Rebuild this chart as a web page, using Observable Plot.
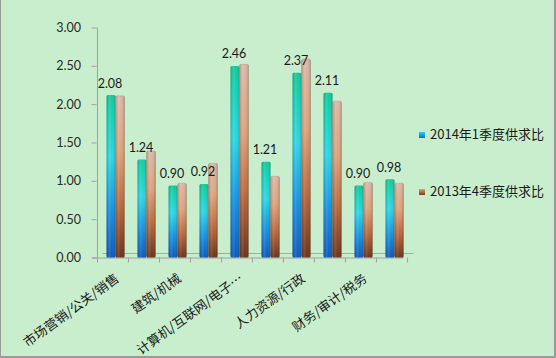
<!DOCTYPE html>
<html>
<head>
<meta charset="utf-8">
<script src="https://cdn.jsdelivr.net/npm/d3@7"></script>
<script src="https://cdn.jsdelivr.net/npm/@observablehq/plot@0.6"></script>
<style>
  html, body { margin: 0; padding: 0; background: #c9eecd; }
  #wrap { position: relative; width: 556px; height: 358px; background: #c9eecd; overflow: hidden; }
  #wrap svg { position: absolute; left: 0; top: 0; }
  .leg { position: absolute; left: 419px; font: 13px "Noto Sans CJK SC", Lato, sans-serif; color: #1a1a1a; line-height: 16px; white-space: nowrap; }
  .leg i { display: inline-block; width: 6px; height: 6px; margin-right: 5px; vertical-align: 1px; }
  #border { position: absolute; left: 0; top: 0; right: 0; bottom: 0; box-sizing: border-box;
            border-left: 1px solid #9a9a9a; border-right: 2px solid #9a9a9a; border-bottom: 2px solid #9a9a9a; pointer-events: none; }
</style>
</head>
<body>
<div id="wrap"><div id="border"></div></div>
<script>
// ---- data ----
const categories = ["市场营销/公关/销售", "（未标注2）", "建筑/机械", "（未标注4）", "计算机/互联网/电子…",
                    "（未标注6）", "人力资源/行政", "（未标注8）", "财务/审计/税务", "（未标注10）"];
const tickLabels = ["市场营销/公关/销售", "建筑/机械", "计算机/互联网/电子…", "人力资源/行政", "财务/审计/税务"];
const series = ["2014年1季度供求比", "2013年4季度供求比"];
const values2014 = [2.08, 1.24, 0.90, 0.92, 2.46, 1.21, 2.37, 2.11, 0.90, 0.98];
const values2013 = [2.07, 1.35, 0.93, 1.19, 2.48, 1.02, 2.55, 2.00, 0.94, 0.93];
const yTicks = [0, 0.5, 1, 1.5, 2, 2.5, 3];

const rows2014 = categories.map((c, i) => ({cat: c, v: values2014[i]}));
const rows2013 = categories.map((c, i) => ({cat: c, v: values2013[i]}));

const W = 556, H = 358;
const mL = 96.5, mR = 148.5, mT = 27.5, mB = 100.5;
const step = (W - mL - mR) / categories.length;
const pad = 1 - 8.6 / step;

const plot = Plot.plot({
  width: W, height: H,
  marginLeft: mL, marginRight: mR, marginTop: mT, marginBottom: mB,
  style: {background: "transparent", fontFamily: "Lato, 'Noto Sans CJK SC', sans-serif", fontSize: "12.5px", color: "#222"},
  x: {domain: categories, paddingInner: pad, paddingOuter: pad / 2, axis: null},
  y: {domain: [0, 3], axis: null},
  marks: [
    // floor (back edge and front edge)
    Plot.ruleY([0], {stroke: "#a8a8a8", dx: 6, dy: -4.5}),
    Plot.ruleY([0], {stroke: "#a0a0a0", dx: -4}),
    // y axis line
    Plot.ruleX([categories[0]], {y1: 0, y2: 3, dx: -step / 2, stroke: "#a0a0a0"}),
    // y axis ticks & labels
    Plot.axisY({ticks: yTicks, tickFormat: d3.format(".2f"), tickSize: 5, tickPadding: 11, label: null,
                stroke: "#a0a0a0", fill: "#2a2a2a", fontSize: 12.5}),
    // x boundary ticks
    Plot.ruleX(categories, {x: d => d, y1: 0, insetBottom: -5, dx: -step / 2, stroke: "#a0a0a0"}),
    Plot.ruleX([categories[categories.length - 1]], {y1: 0, insetBottom: -5, dx: step / 2, stroke: "#a0a0a0"}),
    // bars 2014
    Plot.barY(rows2014, {x: "cat", y: "v", fill: "url(#gTeal)", dx: -1.5, insetTop: -3, rx: 1.5}),
    Plot.barY(rows2014, {x: "cat", y: "v", fill: "url(#gShade)", dx: -1.5, insetTop: -3, rx: 1.5}),
    // bars 2013
    Plot.barY(rows2013, {x: "cat", y: "v", fill: "url(#gOrange)", dx: 7.5, insetTop: -3, rx: 1.5, stroke: "#9a8070", strokeOpacity: 0.5, strokeWidth: 0.6}),
    Plot.barY(rows2013, {x: "cat", y: "v", fill: "url(#gShade)", dx: 7.5, insetTop: -3, rx: 1.5}),
    // value labels (2014 series)
    Plot.text(rows2014, {x: "cat", y: "v", text: d => d.v.toFixed(2), dx: -3, dy: -11, lineAnchor: "bottom",
                         fill: "#1a1a1a", fontSize: 12.5}),
    // x category labels
    Plot.text(tickLabels, {x: d => d, y: () => 0, text: d => d, rotate: -36, textAnchor: "end",
                           dx: 4.5, dy: 19, fill: "#1a1a1a", fontSize: 13,
                           fontFamily: "'Noto Sans CJK SC', sans-serif"})
  ]
});

// gradient definitions for the cylinder-like bars
const defs = `
<defs>
  <linearGradient id="gTeal" x1="0" y1="0" x2="0" y2="1">
    <stop offset="0" stop-color="#14c69a"/>
    <stop offset="0.12" stop-color="#12d2b2"/>
    <stop offset="0.38" stop-color="#2ad6e4"/>
    <stop offset="0.7" stop-color="#1592e2"/>
    <stop offset="1" stop-color="#0a58bc"/>
  </linearGradient>
  <linearGradient id="gOrange" x1="0" y1="0" x2="0" y2="1">
    <stop offset="0" stop-color="#dcb6a6"/>
    <stop offset="0.35" stop-color="#dda27a"/>
    <stop offset="0.68" stop-color="#b8683c"/>
    <stop offset="1" stop-color="#6a3118"/>
  </linearGradient>
  <linearGradient id="gShade" x1="0" y1="0" x2="1" y2="0">
    <stop offset="0" stop-color="#000" stop-opacity="0.18"/>
    <stop offset="0.35" stop-color="#fff" stop-opacity="0.12"/>
    <stop offset="0.6" stop-color="#fff" stop-opacity="0"/>
    <stop offset="1" stop-color="#000" stop-opacity="0.22"/>
  </linearGradient>
</defs>`;
plot.insertAdjacentHTML("afterbegin", defs);

const wrap = document.getElementById("wrap");
wrap.insertBefore(plot, wrap.firstChild);

// legend
const legendColors = ["linear-gradient(#20d6e0, #0a6cd0)", "linear-gradient(#dca27a, #7a3a1c)"];
const legendTops = [126, 183];
series.forEach((s, i) => {
  const d = document.createElement("div");
  d.className = "leg";
  d.style.top = legendTops[i] + "px";
  d.innerHTML = `<i style="background:${legendColors[i]}"></i>${s}`;
  wrap.appendChild(d);
});
</script>
</body>
</html>
